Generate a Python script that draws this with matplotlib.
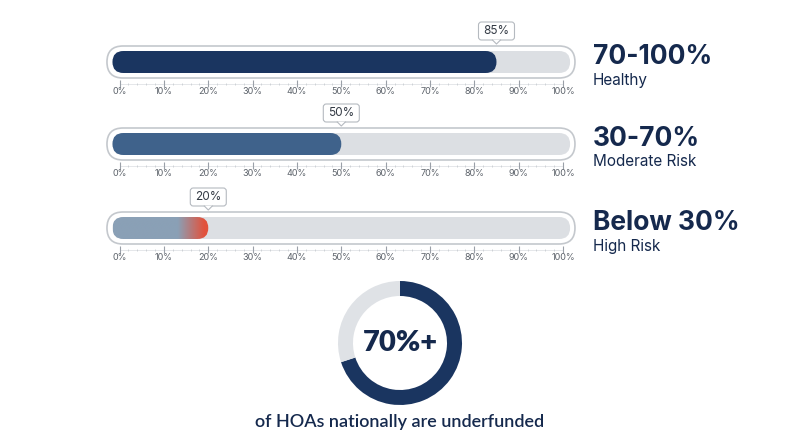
import numpy as np
import matplotlib
matplotlib.use("Agg")
import matplotlib.pyplot as plt
from matplotlib.patches import FancyBboxPatch, Polygon
from matplotlib.colors import to_rgb

# ---------------- data ----------------
values = [85, 50, 20]
ranges = ["70-100%", "30-70%", "Below 30%"]
statuses = ["Healthy", "Moderate Risk", "High Risk"]
tick_vals = list(range(0, 101, 10))
tick_labels = [f"{v}%" for v in tick_vals]
donut_values = [70, 30]
donut_label = "70%+"
donut_caption = "of HOAs nationally are underfunded"

# ---------------- style ----------------
NAVY = "#1a3560"
MOD = "#3f628b"
LOWA = "#8aa0b6"
LOWB = "#e2523c"
TRACK = "#dcdfe3"
OUTLINE = "#c4c8cd"
TEXT = "#15294d"
TICKC = "#9aa0a8"

W, H = 800, 447
fig = plt.figure(figsize=(W / 100, H / 100), dpi=100)
fig.patch.set_facecolor("white")

S = 4.434          # px per percent unit
X0 = 119.6         # px of 0%
ax = fig.add_axes([0, 0, 1, 1])
ax.set_xlim(-X0 / S, (W - X0) / S)
ax.set_ylim(H / S, 0)
ax.axis("off")


def Y(px):
    return px / S


bar_centers = [62, 144, 228]   # px
fill_colors = [NAVY, MOD, None]
track_l, track_r = -1.6, 101.6
track_h = Y(22)
out_l, out_r = -2.85, 102.7
out_h = Y(32)

for i, (val, yc) in enumerate(zip(values, bar_centers)):
    yc_u = Y(yc)
    # outline
    ax.add_patch(FancyBboxPatch((out_l, yc_u - out_h / 2), out_r - out_l, out_h,
                                boxstyle=f"round,pad=0,rounding_size={out_h/2}",
                                fc="white", ec=OUTLINE, lw=1.2, zorder=1))
    # track
    ax.add_patch(FancyBboxPatch((track_l, yc_u - track_h / 2), track_r - track_l, track_h,
                                boxstyle=f"round,pad=0,rounding_size={track_h/2}",
                                fc=TRACK, ec="none", zorder=2))
    # fill
    fill = FancyBboxPatch((track_l, yc_u - track_h / 2), val - track_l, track_h,
                          boxstyle=f"round,pad=0,rounding_size={track_h/2}",
                          fc=fill_colors[i] if fill_colors[i] else "none",
                          ec="none", zorder=3)
    ax.add_patch(fill)
    if fill_colors[i] is None:
        n = 300
        xs = np.linspace(track_l, val, n)
        a, b = np.array(to_rgb(LOWA)), np.array(to_rgb(LOWB))
        start = val - 7.0
        t = np.clip((xs - start) / (val - 1.0 - start), 0, 1)
        cols = a[None, :] * (1 - t[:, None]) + b[None, :] * t[:, None]
        img = np.repeat(cols[None, :, :], 2, axis=0)
        im = ax.imshow(img, extent=(track_l, val, yc_u + track_h / 2, yc_u - track_h / 2),
                       aspect="auto", zorder=3, interpolation="bilinear")
        im.set_clip_path(fill)
    # tick row
    base = Y(yc + 22)
    ax.plot([0, 100], [base, base], color="#e1e3e6", lw=0.6, zorder=2)
    minor = [m for m in np.arange(0, 100.1, 2) if m % 10 != 0]
    ax.vlines(minor, base - Y(1.5), base + Y(1.0), color="#c9cdd2", lw=0.6, zorder=2)
    ax.vlines(tick_vals, base - Y(4), base + Y(3), color=TICKC, lw=0.8, zorder=2)
    for tv, tl in zip(tick_vals, tick_labels):
        ax.text(tv, Y(yc + 29), tl, ha="center", va="center", fontsize=6.5,
                color="#5d636b", family="Inter")
    # tooltip
    ty = Y(yc - 31)
    bw, bh = 36 / S, 18 / S
    ax.add_patch(FancyBboxPatch((val - bw / 2, ty - bh / 2), bw, bh,
                                boxstyle=f"round,pad=0,rounding_size={Y(3)}",
                                fc="white", ec="#b5bac0", lw=0.8, zorder=5))
    ax.add_patch(Polygon([[val - Y(4), ty + bh / 2 - Y(0.3)],
                          [val + Y(4), ty + bh / 2 - Y(0.3)],
                          [val, ty + bh / 2 + Y(4)]], closed=True,
                         fc="white", ec="none", zorder=6))
    ax.plot([val - Y(4), val, val + Y(4)],
            [ty + bh / 2, ty + bh / 2 + Y(4), ty + bh / 2],
            color="#b5bac0", lw=0.8, zorder=6)
    ax.text(val, ty, f"{val}%", ha="center", va="center", fontsize=8.5,
            color="#333a44", family="Inter", zorder=7)
    # right labels
    xr = (593 - X0) / S
    ax.text(xr, Y(yc - 5), ranges[i], ha="left", va="center", fontsize=19,
            fontweight="bold", color=TEXT, family="Inter")
    ax.text(xr, Y(yc + 18), statuses[i], ha="left", va="center", fontsize=11,
            color=TEXT, family="Inter")

# ---------------- donut ----------------
cx, cy, R = 400, 343, 62
pad = 1.05
side = 2 * R * pad
ax2 = fig.add_axes([(cx - side / 2) / W, 1 - (cy + side / 2) / H, side / W, side / H])
ax2.pie(donut_values, colors=[NAVY, "#dfe2e6"], startangle=90, counterclock=False,
        radius=1, wedgeprops=dict(width=15 / R, edgecolor="none"))
ax2.set_xlim(-pad, pad)
ax2.set_ylim(-pad, pad)
ax2.set_aspect("equal")
ax2.axis("off")
ax2.text(0, 0, donut_label, ha="center", va="center", fontsize=21, fontweight="heavy",
         color=TEXT, family="Lato")

ax.text((cx - X0) / S, Y(422), donut_caption, ha="center", va="center", fontsize=13,
        color=TEXT, family="Lato", fontweight="semibold")

fig.savefig("out.png", dpi=100, facecolor="white")
